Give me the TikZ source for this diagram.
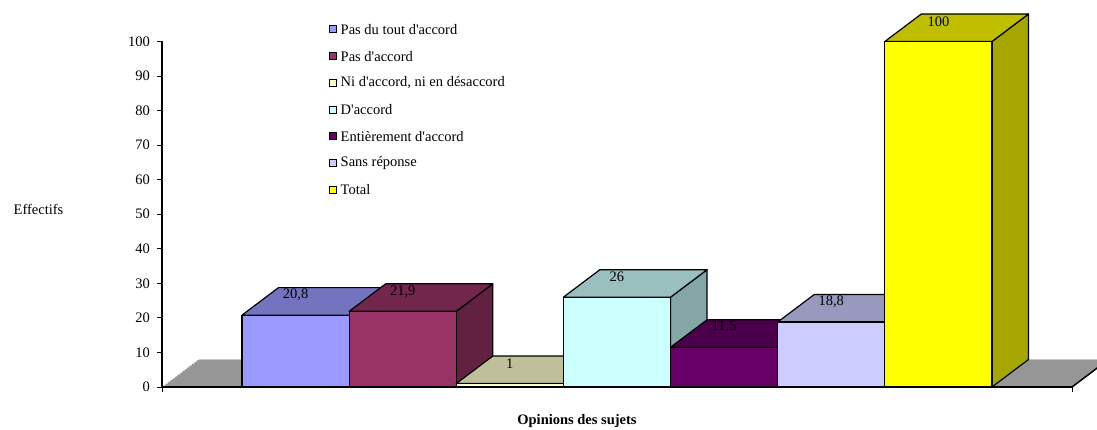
\documentclass[tikz,border=0pt]{standalone}
\usepackage{fontspec}
\setmainfont{Liberation Serif}
\definecolor{cA}{HTML}{9999FF}
\definecolor{cB}{HTML}{993366}
\definecolor{cC}{HTML}{FFFFCC}
\definecolor{cD}{HTML}{CCFFFF}
\definecolor{cE}{HTML}{660066}
\definecolor{cF}{HTML}{CCCCFF}
\definecolor{cG}{HTML}{FFFF00}
\definecolor{floorgray}{HTML}{969696}
\newcommand\apos{\textquotesingle}
\begin{document}
\begin{tikzpicture}[x=1pt,y=-1pt,
  txt/.style={font=\fontsize{14.5}{16}\selectfont, inner sep=0pt},
  boldtxt/.style={font=\fontsize{14.5}{16}\selectfont\bfseries, inner sep=0pt},
  edge/.style={draw=black, line width=1.2pt, line join=round},
  keybox/.style={draw=black, line width=1pt, minimum size=7pt, inner sep=0pt}]
\clip (0,0) rectangle (1097,430);

% floor of the chart
\fill[floorgray] (162,387) -- (1072,387) -- (1108.5,359.5) -- (198.5,359.5) -- cycle;
\draw[gray!45, line width=1pt] (198.5,359.5) -- (1108.5,359.5);
\draw[white, line width=1pt, dotted] (162,387) -- (198.5,359.5);
\draw[black, line width=1.5pt] (1072,387) -- (1108.5,359.5);

% 3-D columns: index, value, colour, label name, printed value
\foreach \i/\v/\c/\nm/\t in {0/20.8/cA/va/{20,8},1/21.9/cB/vb/{21,9},2/1/cC/vc/1,
    3/26/cD/vd/26,4/11.5/cE/ve/{11,5},5/18.8/cF/vf/{18,8},6/100/cG/vg/100}{
  \pgfmathsetmacro\xa{242+107.14*\i}
  \pgfmathsetmacro\xb{\xa+107.14}
  \pgfmathsetmacro\yt{387-3.455*\v}
  \filldraw[edge, fill=\c!65!black] (\xb,\yt) -- (\xb+36.5,\yt-27.5) -- (\xb+36.5,359.5) -- (\xb,387) -- cycle;
  \filldraw[edge, fill=\c!75!black] (\xa,\yt) -- (\xb,\yt) -- (\xb+36.5,\yt-27.5) -- (\xa+36.5,\yt-27.5) -- cycle;
  \filldraw[edge, fill=\c] (\xa,\yt) rectangle (\xb,387);
  \node[txt] (\nm) at ({(\xa+\xb)/2},\yt-20) {\t};
}

% axes
\draw[black, line width=2pt] (162,387) -- (1072,387);
\draw[black, line width=1pt] (162,387) -- (162,392);
\draw[black, line width=1pt] (1072,387) -- (1072,392);
\draw[black, line width=2pt] (162,41.5) -- (162,388);
\foreach \v in {0,10,...,100}{
  \pgfmathsetmacro\yy{387-3.455*\v}
  \draw[black, line width=1pt] (157,\yy) -- (162,\yy);
  \node[txt, anchor=east] (tick\v) at (150,\yy) {\v};
}

% axis titles
\node[txt] (ytitle) at (38.5,209) {Effectifs};
\node[boldtxt] (xtitle) at (577,421) {Opinions des sujets};

% legend
\foreach \k/\c/\t in {0/cA/{Pas du tout d\apos accord},1/cB/{Pas d\apos accord},
    2/cC/{Ni d\apos accord, ni en désaccord},3/cD/{D\apos accord},
    4/cE/{Entièrement d\apos accord},5/cF/{Sans réponse},6/cG/{Total}}{
  \pgfmathsetmacro\yy{29.5+26.75*\k}
  \node[keybox, fill=\c] (key\k) at (333,\yy) {};
  \node[txt, anchor=west] (keytext\k) at (340.5,\yy) {\t};
}
\end{tikzpicture}
\end{document}
